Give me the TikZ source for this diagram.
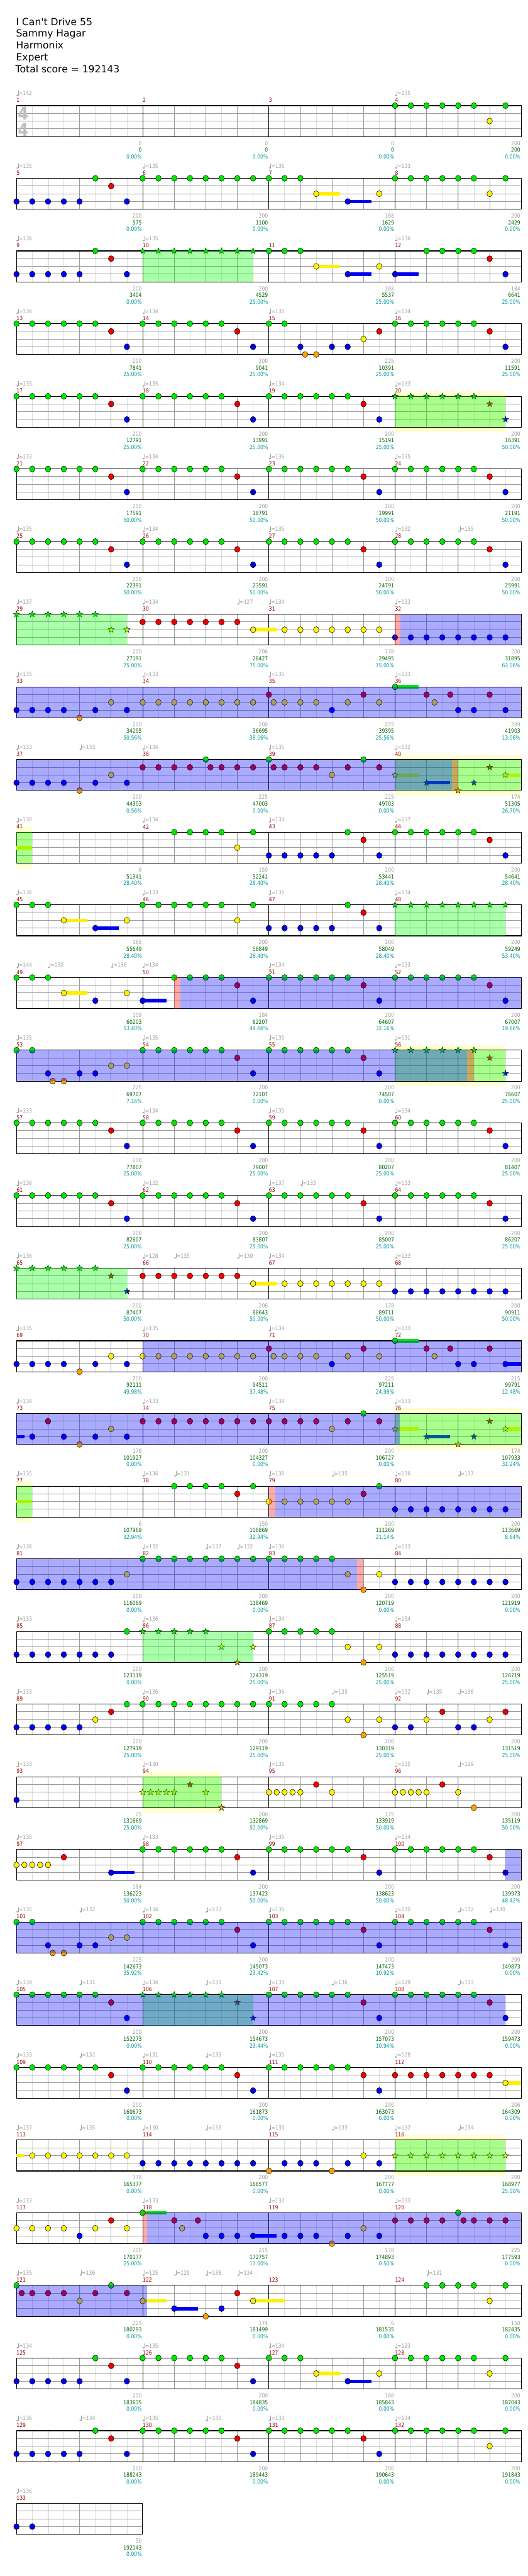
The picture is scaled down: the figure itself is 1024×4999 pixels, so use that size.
\documentclass[tikz,border=0pt]{standalone}
\usepackage{fontspec}
\newfontfamily\titlefont{DejaVu Sans}
\newfontfamily\lblfont{DejaVu Sans}[FakeStretch=0.85]
\definecolor{lane0}{RGB}{0,230,0}
\definecolor{lane1}{RGB}{240,0,0}
\definecolor{lane2}{RGB}{255,240,0}
\definecolor{lane3}{RGB}{0,0,240}
\definecolor{lane4}{RGB}{255,160,0}
\definecolor{paleyel}{RGB}{255,255,208}
\definecolor{measred}{RGB}{153,0,0}
\definecolor{lblgray}{RGB}{160,160,160}
\definecolor{lblgreen}{RGB}{0,100,0}
\definecolor{lblteal}{RGB}{0,153,153}
\definecolor{beatgray}{RGB}{155,155,155}
\definecolor{eighthgray}{RGB}{222,222,222}
\definecolor{sigray}{RGB}{190,190,190}

\tikzset{
  rowat/.style={shift={(32pt,{-(205+141*(#1-1))*1pt})},x=30.625pt,y=-15pt},
  note/.style={fill=lane#1,draw=black,line width=0.6pt},
  starnote/.pic={\filldraw[fill=lane#1,draw=black,line width=0.5pt]
    (90:6.3pt) -- (126:2.6pt) -- (162:6.3pt) -- (198:2.6pt) -- (234:6.3pt) -- (270:2.6pt)
    -- (306:6.3pt) -- (342:2.6pt) -- (18:6.3pt) -- (54:2.6pt) -- cycle;},
  eighthln/.style={eighthgray,line width=0.8pt},
  beatln/.style={beatgray,line width=0.9pt},
  laneln/.style={beatgray,line width=1.2pt},
  barln/.style={black,line width=0.9pt},
  frameln/.style={black,line width=1.3pt},
  small/.style={font=\lblfont\fontsize{11pt}{13pt}\selectfont,inner sep=0pt},
  measnum/.style={small,text=measred,anchor=west},
  tempolbl/.style={small,text=lblgray,anchor=west,xshift=4.5pt},
  scgray/.style={small,text=lblgray,anchor=east,xshift=-1.5pt},
  scgreen/.style={small,text=lblgreen,anchor=east,xshift=-1.5pt},
  scteal/.style={small,text=lblteal,anchor=east,xshift=-1.5pt},
  titletxt/.style={font=\titlefont\fontsize{19pt}{23pt}\selectfont,anchor=base west,inner sep=0pt},
  timesig/.style={font=\lblfont\bfseries\fontsize{34pt}{34pt}\selectfont,text=sigray,inner sep=0pt}
}

% staff of one row: first measure, number of measures
\newcommand\staff[2]{%
  \pgfmathtruncatemacro\nE{8*#2}
  \pgfmathtruncatemacro\nL{8*#2-1}
  \foreach \e in {1,...,\nL} \draw[eighthln] (\e,0) -- (\e,4);
  \foreach \e in {2,4,...,\nL} \draw[beatln] (\e,0) -- (\e,4);
  \foreach \ly in {1,2,3} \draw[laneln] (0,\ly) -- (\nE,\ly);
  \ifnum#2>1 \foreach \e in {8,16,24} \draw[barln] (\e,0) -- (\e,4);\fi
  \draw[frameln] (0,0) rectangle (\nE,4);
  \pgfmathtruncatemacro\nM{#2-1}
  \foreach \jj in {0,...,\nM}{\pgfmathtruncatemacro\mn{#1+\jj}
    \node[measnum] (m\mn) at (8*\jj,-0.7) {\mn};}}
% notes, stars, sustains
\newcommand\putnote[2]{\filldraw[note=#2] ({#1},#2) circle[x radius=5.4pt,y radius=5.8pt];}
\newcommand\notes[1]{\foreach \sa/\sb/\ly in {#1}{\foreach \p in {\sa,...,\sb}{\putnote{\p}{\ly}}}}
\newcommand\std[1]{\foreach \q in {0,...,5}{\putnote{#1+\q}{0}}\putnote{#1+6}{1}\putnote{#1+7}{3}}
\newcommand\stars[1]{\foreach \sa/\sb/\ly in {#1}{\foreach \p in {\sa,...,\sb}{\pic at (\p,\ly) {starnote=\ly};}}}
\newcommand\tails[1]{\foreach \sa/\sb/\ly in {#1}{\fill[lane\ly] (\sa,{\ly-0.23}) rectangle (\sb,{\ly+0.23});}}
% shaded zones
\newcommand\band[1]{\foreach \sa/\sb in {#1}{\fill[paleyel] (\sa,-0.667) rectangle (\sb,4.667);}}
\newcommand\spzone[1]{\foreach \sa/\sb in {#1}{\fill[green,opacity=0.333] (\sa,0) rectangle (\sb,4);}}
\newcommand\odzone[1]{\foreach \sa/\sb in {#1}{\fill[blue,opacity=0.333] (\sa,0) rectangle (\sb,4);}}
\newcommand\actzone[1]{\foreach \sa/\sb in {#1}{\fill[red,opacity=0.333] (\sa,0) rectangle (\sb,4);}}
% labels
\newcommand\tempos[1]{\foreach \p/\tv in {#1}{
  \fill[lblgray] (\p,-1.333) ++(1.8pt,0pt) circle[x radius=2pt,y radius=1.6pt];
  \draw[lblgray,line width=0.6pt] (\p,-1.333) ++(3.6pt,0pt) -- ++(0pt,9pt);
  \node[tempolbl] (t\rw-\p) at (\p,-1.6) {=\tv};}}
\newcommand\scores[1]{\foreach \jj/\ga/\gb/\gc in {#1}{
  \node[scgray] (g\rw-\jj) at ({8*\jj+8},4.867) {\ga};
  \node[scgreen] (s\rw-\jj) at ({8*\jj+8},5.733) {\gb};
  \node[scteal] (p\rw-\jj) at ({8*\jj+8},6.6) {\gc\%};}}

\begin{document}
\begin{tikzpicture}
\useasboundingbox (0,0) rectangle (1024pt,-4999pt);
\fill[white] (0,0) rectangle (1024pt,-4999pt);

% song header
\node[titletxt] (song) at (31pt,-49pt) {I Can't Drive 55};
\node[titletxt] (artist) at (31pt,-72pt) {Sammy Hagar};
\node[titletxt] (charter) at (31pt,-95pt) {Harmonix};
\node[titletxt] (level) at (31pt,-118pt) {Expert};
\node[titletxt] (total) at (30pt,-141pt) {Total score = 192143};

% row 1: measures 1-4
\begin{scope}[rowat=1]\def\rw{1}
\staff{1}{4}
\node[timesig] (ts-top) at (0.4245,1.033) {4};
\node[timesig] (ts-bot) at (0.4245,3.1) {4};
\notes{24/29/0, 31/31/0, 30/30/2}
\tempos{0/142, 24/135}
\scores{0/0/0/0.00, 1/0/0/0.00, 2/0/0/0.00, 3/200/200/0.00}
\end{scope}

% row 2: measures 5-8
\begin{scope}[rowat=2]\def\rw{2}
\staff{5}{4}
\tails{19/20.5/2, 21/22.5/3}
\notes{0/4/3, 7/7/3, 5/5/0, 6/6/1, 8/18/0, 19/19/2, 21/21/3, 23/23/2, 24/29/0, 31/31/0, 30/30/2}
\tempos{0/135, 8/135, 16/136, 24/133}
\scores{0/200/575/0.00, 1/200/1100/0.00, 2/168/1629/0.00, 3/200/2429/0.00}
\end{scope}

% row 3: measures 9-12
\begin{scope}[rowat=3]\def\rw{3}
\staff{9}{4}
\tails{19/20.5/2, 21/22.5/3, 24/25.5/3}
\notes{0/4/3, 7/7/3, 5/5/0, 6/6/1, 16/18/0, 19/19/2, 21/21/3, 23/23/2, 24/24/3, 26/29/0, 30/30/1, 31/31/3}
\stars{8/15/0}
\spzone{8/15}
\tempos{0/136, 8/135, 24/136}
\scores{0/200/3404/0.00, 1/200/4529/25.00, 2/168/5537/25.00, 3/184/6641/25.00}
\end{scope}

% row 4: measures 13-16
\begin{scope}[rowat=4]\def\rw{4}
\staff{13}{4}
\notes{0/5/0, 6/6/1, 7/7/3, 8/13/0, 14/14/1, 15/15/3, 16/17/0, 18/18/3, 18.3/18.3/4, 19/19/4, 20/21/3, 22/22/2, 23/23/1, 24/29/0, 30/30/1, 31/31/3}
\tempos{0/136, 8/134, 16/135, 24/134}
\scores{0/200/7841/25.00, 1/200/9041/25.00, 2/225/10391/25.00, 3/200/11591/25.00}
\end{scope}

% row 5: measures 17-20
\begin{scope}[rowat=5]\def\rw{5}
\band{24/31}
\staff{17}{4}
\std{0}\std{8}
\notes{16/21/0, 22/22/1, 23/23/3}
\stars{24/29/0, 30/30/1, 31/31/3}
\spzone{24/31}
\tempos{0/135, 8/135, 16/134, 24/133}
\scores{0/200/12791/25.00, 1/200/13991/25.00, 2/200/15191/25.00, 3/200/16391/50.00}
\end{scope}

% row 6: measures 21-24
\begin{scope}[rowat=6]\def\rw{6}
\staff{21}{4}
\std{0}\std{8}\std{16}\std{24}
\tempos{0/133, 8/134, 16/136, 24/135}
\scores{0/200/17591/50.00, 1/200/18791/50.00, 2/200/19991/50.00, 3/200/21191/50.00}
\end{scope}

% row 7: measures 25-28
\begin{scope}[rowat=7]\def\rw{7}
\staff{25}{4}
\std{0}\std{8}\std{16}\std{24}
\tempos{0/135, 8/134, 16/135, 24/132, 28/135}
\scores{0/200/22391/50.00, 1/200/23591/50.00, 2/200/24791/50.00, 3/200/25991/50.00}
\end{scope}

% row 8: measures 29-32
\begin{scope}[rowat=8]\def\rw{8}
\staff{29}{4}
\tails{15/16.5/2}
\notes{8/14/1, 15/15/2, 17/23/2, 24/31/3}
\stars{0/5/0, 6/7/2}
\spzone{0/7}
\odzone{24.33/32}
\actzone{24/24.33}
\tempos{0/137, 8/134, 14/127, 16/134, 24/133}
\scores{0/200/27191/75.00, 1/206/28427/75.00, 2/178/29495/75.00, 3/200/31895/63.06}
\end{scope}

% row 9: measures 33-36
\begin{scope}[rowat=9]\def\rw{9}
\staff{33}{4}
\tails{24/25.5/0}
\notes{0/3/3, 4/4/4, 5/5/3, 6/6/2, 7/7/3, 8/15/2, 16/16/1, 16.3/16.3/2, 17/19/2, 20/20/3, 21/21/2, 22/22/1, 23/23/2, 24/24/0, 26/26/1, 27.5/27.5/1, 30/30/1, 26.5/26.5/2, 28/29/3, 31/31/3}
\odzone{0/32}
\tempos{0/135, 8/133, 16/135, 24/133}
\scores{0/200/34295/50.56, 1/200/36695/38.06, 2/225/39395/25.56, 3/209/41903/13.06}
\end{scope}

% row 10: measures 37-40
\begin{scope}[rowat=10]\def\rw{10}
\band{24/32}
\staff{37}{4}
\tails{24/25.5/2, 26/27.5/3, 31/32/2}
\notes{0/3/3, 4/4/4, 5/5/3, 6/6/2, 7/7/3, 8/11/1, 12/12/0, 12.3/12.3/1, 13/15/1, 16/16/0, 16.3/16.3/1, 17/19/1, 20/20/2, 21/21/1, 22/22/0, 23/23/1}
\stars{24/24/2, 26/26/3, 28/28/4, 29/29/3, 30/30/1, 31/31/2}
\spzone{24/32}
\odzone{0/27.6}
\actzone{27.6/28}
\tempos{0/133, 4/133, 8/134, 16/135, 24/132}
\scores{0/200/44303/0.56, 1/225/47003/0.00, 2/225/49703/0.00, 3/174/51305/26.70}
\end{scope}

% row 11: measures 41-44
\begin{scope}[rowat=11]\def\rw{11}
\band{0/1}
\staff{41}{4}
\tails{0/1/2}
\notes{10/13/0, 15/15/0, 14/14/2, 16/20/3, 21/21/0, 22/22/1, 23/23/3, 24/29/0, 30/30/1, 31/31/3}
\spzone{0/1}
\tempos{0/130, 8/134, 16/133, 24/137}
\scores{0/6/51341/28.40, 1/150/52241/28.40, 2/200/53441/28.40, 3/200/54641/28.40}
\end{scope}

% row 12: measures 45-48
\begin{scope}[rowat=12]\def\rw{12}
\staff{45}{4}
\tails{3/4.5/2, 5/6.5/3}
\notes{0/2/0, 3/3/2, 5/5/3, 7/7/2, 8/13/0, 14/14/2, 15/15/0, 16/20/3, 21/21/0, 22/22/1, 23/23/3}
\stars{24/31/0}
\spzone{24/31}
\tempos{0/136, 8/133, 16/135, 24/134}
\scores{0/168/55649/28.40, 1/200/56849/28.40, 2/200/58049/28.40, 3/200/59249/53.40}
\end{scope}

% row 13: measures 49-52
\begin{scope}[rowat=13]\def\rw{13}
\staff{49}{4}
\tails{3/4.5/2, 8/9.5/3}
\notes{0/2/0, 3/3/2, 5/5/3, 7/7/2, 8/8/3, 10/13/0, 14/14/1, 15/15/3, 16/21/0, 22/22/1, 23/23/3, 24/29/0, 30/30/1, 31/31/3}
\odzone{10.4/32}
\actzone{10/10.4}
\tempos{0/144, 2/130, 6/136, 8/134, 16/134, 24/133}
\scores{0/159/60203/53.40, 1/184/62207/44.66, 2/200/64607/32.16, 3/200/67007/19.66}
\end{scope}

% row 14: measures 53-56
\begin{scope}[rowat=14]\def\rw{14}
\band{24/31}
\staff{53}{4}
\notes{0/1/0, 2/2/3, 2.3/2.3/4, 3/3/4, 4/5/3, 6/7/2}
\std{8}\std{16}
\stars{24/29/0, 30/30/1, 31/31/3}
\spzone{24/31}
\odzone{0/28.56}
\actzone{28.56/29}
\tempos{0/135, 8/135, 16/135, 24/131}
\scores{0/225/69707/7.16, 1/200/72107/0.00, 2/200/74507/0.00, 3/200/76607/25.00}
\end{scope}

% row 15: measures 57-60
\begin{scope}[rowat=15]\def\rw{15}
\staff{57}{4}
\std{0}\std{8}\std{16}\std{24}
\tempos{0/133, 8/134, 16/135, 24/134}
\scores{0/200/77807/25.00, 1/200/79007/25.00, 2/200/80207/25.00, 3/200/81407/25.00}
\end{scope}

% row 16: measures 61-64
\begin{scope}[rowat=16]\def\rw{16}
\staff{61}{4}
\std{0}\std{8}\std{16}\std{24}
\tempos{0/136, 8/132, 16/137, 18/133, 24/133}
\scores{0/200/82607/25.00, 1/200/83807/25.00, 2/200/85007/25.00, 3/200/86207/25.00}
\end{scope}

% row 17: measures 65-68
\begin{scope}[rowat=17]\def\rw{17}
\staff{65}{4}
\tails{15/16.5/2}
\notes{8/14/1, 15/15/2, 17/23/2, 24/31/3}
\stars{0/5/0, 6/6/1, 7/7/3}
\spzone{0/7}
\tempos{0/136, 8/128, 10/135, 14/130, 16/134, 24/133}
\scores{0/200/87407/50.00, 1/206/88643/50.00, 2/178/89711/50.00, 3/200/90911/50.00}
\end{scope}

% row 18: measures 69-72
\begin{scope}[rowat=18]\def\rw{18}
\staff{69}{4}
\tails{24/25.5/0, 31/32/3}
\notes{0/3/3, 4/4/4, 5/5/3, 6/6/2, 7/7/3, 8/15/2, 16/16/1, 16.3/16.3/2, 17/19/2, 20/20/3, 21/21/2, 22/22/1, 23/23/2, 24/24/0, 26/26/1, 27.5/27.5/1, 30/30/1, 26.5/26.5/2, 28/29/3, 31/31/3}
\odzone{8/32}
\tempos{0/135, 8/135, 16/134, 24/133}
\scores{0/200/92111/49.98, 1/200/94511/37.48, 2/225/97211/24.98, 3/215/99791/12.48}
\end{scope}

% row 19: measures 73-76
\begin{scope}[rowat=19]\def\rw{19}
\band{24/32}
\staff{73}{4}
\tails{0/0.5/3, 24/25.5/2, 26/27.5/3, 31/32/2}
\notes{1/1/3, 2/2/1, 3/3/3, 4/4/4, 5/5/3, 6/6/2, 7/7/3, 8/15/1, 16/19/1, 20/20/2, 21/21/1, 22/22/0, 23/23/1}
\stars{24/24/2, 26/26/3, 28/28/4, 29/29/3, 30/30/1, 31/31/2}
\spzone{24/32}
\odzone{0/24.3}
\tempos{0/134, 8/133, 16/134, 24/133}
\scores{0/178/101927/0.00, 1/200/104327/0.00, 2/200/106727/0.00, 3/174/107933/31.24}
\end{scope}

% row 20: measures 77-80
\begin{scope}[rowat=20]\def\rw{20}
\band{0/1}
\staff{77}{4}
\tails{0/1/2}
\notes{10/13/0, 15/15/0, 14/14/1, 16/21/2, 22/22/1, 23/23/0, 24/31/3}
\spzone{0/1}
\odzone{16.4/32}
\actzone{16/16.4}
\tempos{0/135, 8/136, 10/131, 16/138, 20/135, 24/136, 28/137}
\scores{0/6/107969/32.94, 1/150/108869/32.94, 2/200/111269/21.14, 3/200/113669/8.64}
\end{scope}

% row 21: measures 81-84
\begin{scope}[rowat=21]\def\rw{21}
\staff{81}{4}
\notes{0/6/3, 7/7/2, 8/20/0, 21/21/2, 22/22/4, 23/23/2, 24/31/3}
\odzone{0/21.6}
\actzone{21.6/22}
\tempos{0/136, 8/132, 12/137, 14/132, 16/136, 24/133}
\scores{0/200/116069/0.00, 1/200/118469/0.00, 2/200/120719/0.00, 3/200/121919/0.00}
\end{scope}

% row 22: measures 85-88
\begin{scope}[rowat=22]\def\rw{22}
\staff{85}{4}
\notes{0/6/3, 7/7/0, 16/20/0, 21/21/2, 22/22/4, 23/23/2, 24/31/3}
\stars{8/12/0, 13/13/2, 14/14/4, 15/15/2}
\spzone{8/15}
\tempos{0/133, 8/136, 16/134, 24/134}
\scores{0/200/123119/0.00, 1/200/124319/25.00, 2/200/125519/25.00, 3/200/126719/25.00}
\end{scope}

% row 23: measures 89-92
\begin{scope}[rowat=23]\def\rw{23}
\staff{89}{4}
\notes{0/4/3, 5/5/2, 6/6/1, 7/20/0, 21/21/2, 22/22/4, 23/23/2, 24/25/3, 26/26/2, 27/27/1, 28/29/3, 30/30/2, 31/31/1}
\tempos{0/133, 8/136, 16/136, 20/135, 24/132, 26/135, 28/136}
\scores{0/200/127919/25.00, 1/200/129119/25.00, 2/200/130319/25.00, 3/200/131519/25.00}
\end{scope}

% row 24: measures 93-96
\begin{scope}[rowat=24]\def\rw{24}
\band{8/13}
\staff{93}{4}
\notes{0/0/3, 16/16/2, 16.5/16.5/2, 17/17/2, 17.5/17.5/2, 18/18/2, 19/19/1, 20/20/2, 24/24/2, 24.5/24.5/2, 25/25/2, 25.5/25.5/2, 26/26/2, 27/27/1, 28/28/2, 29/29/4}
\stars{8/8/2, 8.5/8.5/2, 9/9/2, 9.5/9.5/2, 10/10/2, 11/11/1, 12/12/2, 13/13/4}
\spzone{8/13}
\tempos{0/133, 8/130, 16/131, 24/135, 28/129}
\scores{0/25/131669/25.00, 1/200/132869/50.00, 2/175/133919/50.00, 3/200/135119/50.00}
\end{scope}

% row 25: measures 97-100
\begin{scope}[rowat=25]\def\rw{25}
\staff{97}{4}
\tails{6/7.5/3}
\notes{0/0/2, 0.5/0.5/2, 1/1/2, 1.5/1.5/2, 2/2/2, 3/3/1, 6/6/3}
\std{8}\std{16}\std{24}
\odzone{31/32}
\tempos{0/130, 8/133, 16/135, 24/134}
\scores{0/184/136223/50.00, 1/200/137423/50.00, 2/200/138623/50.00, 3/200/139973/48.42}
\end{scope}

% row 26: measures 101-104
\begin{scope}[rowat=26]\def\rw{26}
\staff{101}{4}
\notes{0/1/0, 2/2/3, 2.3/2.3/4, 3/3/4, 4/5/3, 6/7/2}
\std{8}\std{16}\std{24}
\odzone{0/32}
\tempos{0/135, 4/132, 8/134, 12/133, 16/135, 24/130, 28/132, 30/130}
\scores{0/225/142673/35.92, 1/200/145073/23.42, 2/200/147473/10.92, 3/200/149873/0.00}
\end{scope}

% row 27: measures 105-108
\begin{scope}[rowat=27]\def\rw{27}
\staff{105}{4}
\std{0}\std{16}\std{24}
\stars{8/13/0, 14/14/1, 15/15/3}
\spzone{8/15}
\odzone{0/31}
\tempos{0/134, 4/131, 8/134, 12/133, 16/133, 20/136, 24/129, 28/133}
\scores{0/200/152273/0.00, 1/200/154673/23.44, 2/200/157073/10.94, 3/200/159473/0.00}
\end{scope}

% row 28: measures 109-112
\begin{scope}[rowat=28]\def\rw{28}
\staff{109}{4}
\tails{31/32/2}
\std{0}\std{8}\std{16}
\notes{24/30/1, 31/31/2}
\tempos{0/133, 4/132, 8/131, 12/135, 16/135, 24/128}
\scores{0/200/160673/0.00, 1/200/161873/0.00, 2/200/163073/0.00, 3/206/164309/0.00}
\end{scope}

% row 29: measures 113-116
\begin{scope}[rowat=29]\def\rw{29}
\band{24/31}
\staff{113}{4}
\tails{0/0.5/2}
\notes{1/7/2, 8/15/3, 16/16/4, 17/19/3, 20/20/4, 21/21/3, 22/22/2, 23/23/3}
\stars{24/31/2}
\spzone{24/31}
\tempos{0/137, 4/135, 8/130, 12/133, 16/135, 20/133, 24/132, 28/134}
\scores{0/178/165377/0.00, 1/200/166577/0.00, 2/200/167777/0.00, 3/200/168977/25.00}
\end{scope}

% row 30: measures 117-120
\begin{scope}[rowat=30]\def\rw{30}
\staff{117}{4}
\tails{8/9.5/0, 15/16.5/3}
\notes{0/3/2, 4/4/3, 5/5/2, 6/6/1, 7/7/2, 8/8/0, 10/10/1, 10.5/10.5/2, 11.5/11.5/1, 12/15/3, 17/19/3, 20/20/4, 21/21/3, 22/22/2, 23/23/3, 24/27/1, 28/28/0, 28.34/28.34/1, 29/31/1}
\odzone{8.3/32}
\actzone{8/8.3}
\tempos{0/133, 8/133, 16/132, 24/133}
\scores{0/200/170177/25.00, 1/215/172757/13.00, 2/178/174893/0.50, 3/225/177593/0.00}
\end{scope}

% row 31: measures 121-124
\begin{scope}[rowat=31]\def\rw{31}
\staff{121}{4}
\tails{8/9.5/2, 10/11.5/3, 15/17/2}
\notes{0/0/0, 0.33/0.33/1, 1/3/1, 4/4/2, 5/5/1, 6/6/0, 7/7/1, 8/8/2, 10/10/3, 12/12/4, 13/13/3, 14/14/1, 15/15/2, 26/29/0, 31/31/0, 30/30/2}
\odzone{0/8.3}
\tempos{0/135, 4/136, 8/125, 10/129, 12/138, 14/134, 26/131}
\scores{0/225/180293/0.00, 1/174/181499/0.00, 2/6/181535/0.00, 3/150/182435/0.00}
\end{scope}

% row 32: measures 125-128
\begin{scope}[rowat=32]\def\rw{32}
\staff{125}{4}
\tails{19/20.5/2, 21/22.5/3}
\notes{0/4/3, 7/7/3, 5/5/0, 6/6/1, 8/13/0, 14/14/1, 15/15/3, 16/18/0, 19/19/2, 21/21/3, 23/23/2, 24/29/0, 31/31/0, 30/30/2}
\tempos{0/134, 8/135, 16/134, 24/133}
\scores{0/200/183635/0.00, 1/200/184835/0.00, 2/168/185843/0.00, 3/200/187043/0.00}
\end{scope}

% row 33: measures 129-132
\begin{scope}[rowat=33]\def\rw{33}
\staff{129}{4}
\notes{0/4/3, 7/7/3, 5/5/0, 6/6/1, 8/13/0, 14/14/1, 15/15/3, 16/21/0, 22/22/1, 23/23/3, 24/29/0, 31/31/0, 30/30/2}
\tempos{0/136, 4/134, 8/135, 12/135, 16/133, 24/134}
\scores{0/200/188243/0.00, 1/200/189443/0.00, 2/200/190643/0.00, 3/200/191843/0.00}
\end{scope}

% row 34: measure 133
\begin{scope}[rowat=34]\def\rw{34}
\staff{133}{1}
\notes{0/1/3}
\tempos{0/136}
\scores{0/50/192143/0.00}
\end{scope}
\end{tikzpicture}
\end{document}
